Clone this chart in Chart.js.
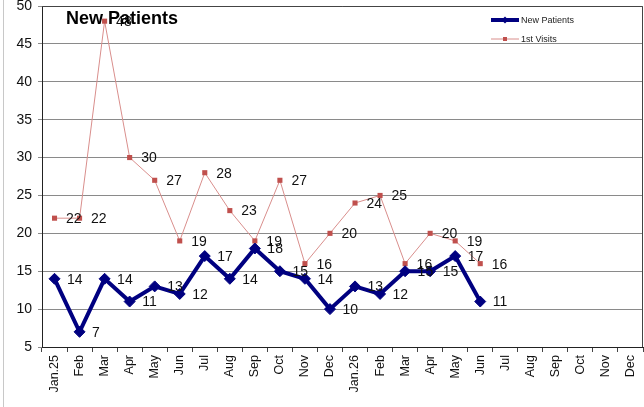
<!DOCTYPE html>
<html lang="en">
<head>
    <meta charset="UTF-8">
    <title>New Patients</title>
    <script src="https://cdn.jsdelivr.net/npm/chart.js"></script>
    <style>
        html, body {
            margin: 0;
            padding: 0;
            background: #ffffff;
        }
        #chart {
            display: block;
        }
    </style>
</head>
<body>
    <canvas id="chart" width="644" height="407"></canvas>

    <script>
        // Months on the x axis (two years)
        const months = ['Jan.25', 'Feb', 'Mar', 'Apr', 'May', 'Jun', 'Jul', 'Aug', 'Sep', 'Oct', 'Nov', 'Dec',
                        'Jan.26', 'Feb', 'Mar', 'Apr', 'May', 'Jun', 'Jul', 'Aug', 'Sep', 'Oct', 'Nov', 'Dec'];

        // Series values, empty months are null
        const newPatients = [14, 7, 14, 11, 13, 12, 17, 14, 18, 15, 14, 10,
                             13, 12, 15, 15, 17, 11, null, null, null, null, null, null];
        const firstVisits = [22, 22, 48, 30, 27, 19, 28, 23, 19, 27, 16, 20,
                             24, 25, 16, 20, 19, 16, null, null, null, null, null, null];

        const yTicks = [5, 10, 15, 20, 25, 30, 35, 40, 45, 50];

        const FONT = '"Liberation Sans", Arial, sans-serif';

        // value labels to the right of every point
        const valueLabels = {
            id: 'valueLabels',
            afterDatasetsDraw(chart) {
                const ctx = chart.ctx;
                ctx.save();
                ctx.font = '14px ' + FONT;
                ctx.fillStyle = '#111';
                ctx.textAlign = 'left';
                ctx.textBaseline = 'middle';
                chart.data.datasets.forEach((ds, i) => {
                    const meta = chart.getDatasetMeta(i);
                    const off = i === 0 ? 12.5 : 11.5;
                    meta.data.forEach((pt, j) => {
                        const v = ds.data[j];
                        if (v === null || v === undefined) return;
                        ctx.fillText(String(v), pt.x + off, pt.y + 1);
                    });
                });
                ctx.restore();
            }
        };

        // frame, title and legend drawn inside the plot area like the original
        const decorations = {
            id: 'decorations',
            afterDraw(chart) {
                const ctx = chart.ctx;
                const a = chart.chartArea;
                ctx.save();

                // outer left border of the picture
                ctx.strokeStyle = '#c8c8c8';
                ctx.lineWidth = 1;
                ctx.beginPath();
                ctx.moveTo(3.5, 0);
                ctx.lineTo(3.5, chart.height);
                ctx.stroke();

                // top and right border of the plot
                ctx.strokeStyle = '#444';
                ctx.beginPath();
                ctx.moveTo(a.left, a.top + 0.5);
                ctx.lineTo(a.right - 0.5, a.top + 0.5);
                ctx.lineTo(a.right - 0.5, a.bottom);
                ctx.stroke();

                // title
                ctx.fillStyle = '#000';
                ctx.font = 'bold 18px ' + FONT;
                ctx.textBaseline = 'middle';
                ctx.textAlign = 'left';
                ctx.fillText('New Patients', 66, 19);

                // legend
                const items = [
                    { ds: chart.data.datasets[0], y: 20 },
                    { ds: chart.data.datasets[1], y: 39 }
                ];
                items.forEach(it => {
                    ctx.strokeStyle = it.ds.borderColor;
                    ctx.lineWidth = it.ds.borderWidth;
                    ctx.beginPath();
                    ctx.moveTo(491, it.y);
                    ctx.lineTo(519, it.y);
                    ctx.stroke();
                    ctx.fillStyle = it.ds.pointBackgroundColor;
                    ctx.beginPath();
                    if (it.ds.pointStyle === 'rectRot') {
                        ctx.moveTo(505, it.y - 3.5);
                        ctx.lineTo(508.5, it.y);
                        ctx.lineTo(505, it.y + 3.5);
                        ctx.lineTo(501.5, it.y);
                        ctx.closePath();
                    } else {
                        ctx.rect(503, it.y - 2, 4, 4);
                    }
                    ctx.fill();
                    ctx.fillStyle = '#222';
                    ctx.font = '9px ' + FONT;
                    ctx.fillText(it.ds.label, 521, it.y + 0.5);
                });

                ctx.restore();
            }
        };

        new Chart(document.getElementById('chart'), {
            type: 'line',
            data: {
                labels: months,
                datasets: [
                    {
                        label: 'New Patients',
                        data: newPatients,
                        borderColor: '#000080',
                        backgroundColor: '#000080',
                        borderWidth: 4,
                        pointStyle: 'rectRot',
                        pointRadius: 5.5,
                        pointBackgroundColor: '#000080',
                        pointBorderColor: '#000080',
                        pointBorderWidth: 1,
                        tension: 0,
                        spanGaps: false
                    },
                    {
                        label: '1st Visits',
                        data: firstVisits,
                        borderColor: '#d98e8c',
                        backgroundColor: '#c0504d',
                        borderWidth: 1,
                        pointStyle: 'rect',
                        pointRadius: 3.6,
                        pointBackgroundColor: '#c0504d',
                        pointBorderColor: '#c0504d',
                        pointBorderWidth: 0,
                        tension: 0,
                        spanGaps: false
                    }
                ]
            },
            options: {
                responsive: false,
                animation: false,
                layout: {
                    // no extra room for the point markers, plot runs to the edge
                    autoPadding: false,
                    padding: { left: 0, top: 6, right: 1, bottom: 0 }
                },
                plugins: {
                    legend: { display: false },
                    title: { display: false },
                    tooltip: { enabled: false }
                },
                scales: {
                    x: {
                        type: 'category',
                        offset: true,
                        afterFit(scale) {
                            scale.height = 60;
                            scale.paddingLeft = 0;
                            scale.paddingRight = 0;
                        },
                        grid: {
                            offset: true,
                            drawOnChartArea: false,
                            drawTicks: true,
                            tickLength: 5,
                            color: '#444'
                        },
                        border: { color: '#222', width: 1 },
                        ticks: {
                            autoSkip: false,
                            minRotation: 90,
                            maxRotation: 90,
                            padding: 3,
                            color: '#111',
                            font: { family: FONT, size: 12.5, lineHeight: 0.01 }
                        }
                    },
                    y: {
                        min: 5,
                        max: 50,
                        afterFit(scale) {
                            scale.width = 42;
                            scale.paddingTop = 0;
                            scale.paddingBottom = 0;
                        },
                        afterBuildTicks(scale) {
                            scale.ticks = yTicks.map(v => ({ value: v }));
                        },
                        grid: {
                            color: '#8a8a8a',
                            lineWidth: 1,
                            drawTicks: true,
                            tickLength: 4
                        },
                        border: { color: '#222', width: 1 },
                        ticks: {
                            padding: 6,
                            color: '#111',
                            font: { family: FONT, size: 14 }
                        }
                    }
                }
            },
            plugins: [valueLabels, decorations]
        });
    </script>
</body>
</html>
